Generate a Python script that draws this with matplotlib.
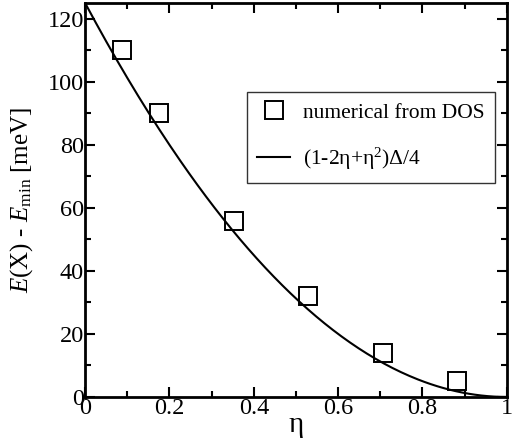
import numpy as np
import matplotlib.pyplot as plt

plt.rcParams["font.family"] = ["Liberation Serif", "DejaVu Serif"]
plt.rcParams["mathtext.fontset"] = "custom"
plt.rcParams["mathtext.rm"] = "Liberation Serif"
plt.rcParams["mathtext.it"] = "Liberation Serif:italic"

# numerical data from DOS
eta_pts = [0.088, 0.176, 0.353, 0.529, 0.706, 0.882]
e_pts = [110, 90, 56, 32, 14, 5]

# analytic curve (1-2eta+eta^2)*Delta/4
delta = 500.0
eta = np.linspace(0, 1, 200)
e_curve = (1 - 2 * eta + eta**2) * delta / 4

fig = plt.figure(figsize=(5.29, 4.45), dpi=100)
ax = fig.add_axes([0.161, 0.108, 0.797, 0.885])

ax.plot(eta_pts, e_pts, "s", mfc="none", mec="black", ms=13, mew=1.4,
        label="numerical from DOS")
ax.plot(eta, e_curve, "-", color="black", lw=1.5,
        label="(1-2\u03b7+\u03b7$^2$)\u0394/4")

ax.set_xlim(0, 1)
ax.set_ylim(0, 125)
ax.set_xticks([0, 0.2, 0.4, 0.6, 0.8, 1])
ax.set_xticklabels(["0", "0.2", "0.4", "0.6", "0.8", "1"])
ax.set_xticks(np.arange(0.1, 1, 0.2), minor=True)
ax.set_yticks([0, 20, 40, 60, 80, 100, 120])
ax.set_yticks(np.arange(10, 125, 20), minor=True)

ax.tick_params(which="both", direction="in", top=True, right=True,
               labelsize=17.5, width=1.5, pad=1)
ax.tick_params(which="major", length=7)
ax.tick_params(which="minor", length=4)
for s in ax.spines.values():
    s.set_linewidth(2)

ax.set_xlabel("\u03b7", fontsize=21, labelpad=-5)
ax.set_ylabel("$E$(X) - $E$$_{\\rm min}$ [meV]", fontsize=18)
ax.yaxis.set_label_coords(-0.12, 0.5)

leg = ax.legend(loc="upper right", bbox_to_anchor=(0.972, 0.774), fontsize=15.5,
                frameon=True, fancybox=False, edgecolor="black",
                borderaxespad=0, handlelength=1.5, handletextpad=0.6,
                borderpad=0.5, labelspacing=1.05)
leg.get_frame().set_linewidth(1.0)

fig.savefig("out.png", dpi=100)
